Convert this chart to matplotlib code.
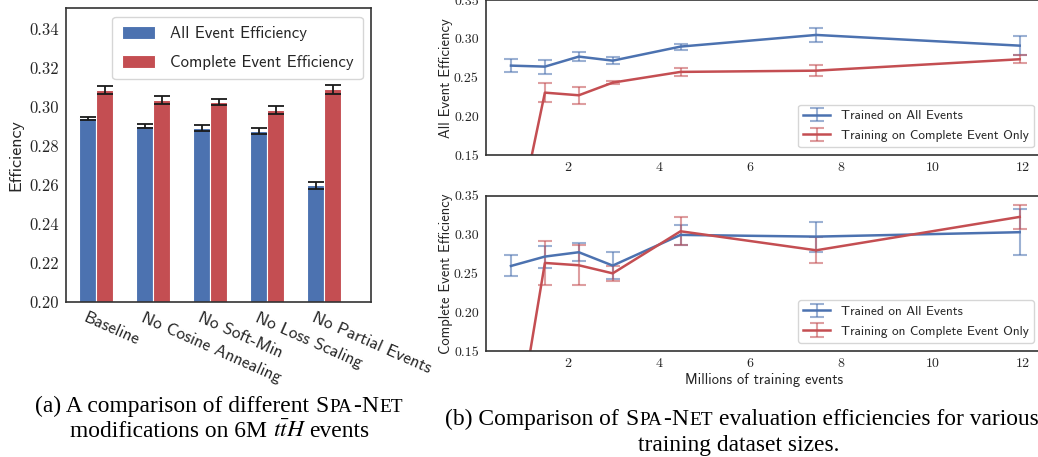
import matplotlib
matplotlib.use("Agg")
import matplotlib.pyplot as plt
import numpy as np
from matplotlib.transforms import IdentityTransform

# ---------------- data ----------------
categories = ['Baseline', 'No Cosine Annealing', 'No Soft-Min', 'No Loss Scaling', 'No Partial Events']
all_eff = [0.2941, 0.2902, 0.2893, 0.2876, 0.2597]
all_err = [0.0008, 0.0012, 0.0015, 0.0014, 0.0017]
comp_eff = [0.3087, 0.3035, 0.3025, 0.2984, 0.3090]
comp_err = [0.0022, 0.0022, 0.0017, 0.0021, 0.0023]

train_sizes = [0.745, 1.49, 2.235, 2.98, 4.47, 7.45, 11.92]
top_all = [0.2655, 0.2642, 0.2771, 0.2719, 0.2900, 0.3050, 0.2912]
top_all_err = [0.0088, 0.0090, 0.0058, 0.0045, 0.0039, 0.0090, 0.0122]
top_comp = [0.022, 0.2307, 0.2273, 0.2436, 0.2574, 0.2590, 0.2737]
top_comp_err = [0.005, 0.0120, 0.0110, 0.0024, 0.0054, 0.0071, 0.0052]
bot_all = [0.2595, 0.2716, 0.2772, 0.2600, 0.2995, 0.2973, 0.3030]
bot_all_err = [0.0135, 0.0142, 0.0116, 0.0172, 0.0125, 0.0193, 0.0300]
bot_comp = [0.000, 0.2634, 0.2604, 0.2500, 0.3042, 0.2797, 0.3227]
bot_comp_err = [0.005, 0.0286, 0.0260, 0.0100, 0.0180, 0.0168, 0.0155]

series_labels = ['Trained on All Events', 'Training on Complete Event Only']
bar_labels = ['All Event Efficiency', 'Complete Event Efficiency']

BLUE = '#4C72B0'
RED = '#C44E52'
EDGE = '#333333'
TXT = '#262626'

plt.rcParams['mathtext.fontset'] = 'stix'
plt.rcParams['axes.unicode_minus'] = False

W, H = 1038, 457
fig = plt.figure(figsize=(W / 100, H / 100), dpi=100)


def px_axes(left, top, right, bottom):
    return fig.add_axes([left / W, 1 - bottom / H, (right - left) / W, (bottom - top) / H])


def style_axes(ax, tick_size):
    for s in ax.spines.values():
        s.set_color(EDGE)
        s.set_linewidth(1.2)
    ax.tick_params(length=0, pad=5, labelsize=tick_size, colors=TXT)
    for lab in ax.get_yticklabels() + ax.get_xticklabels():
        lab.set_fontfamily('cmr10')


# ---------------- (a) bar chart ----------------
axa = px_axes(66, 8.3, 371, 301.7)
bw = 0.3
x = np.arange(len(categories))
axa.bar(x, all_eff, bw, color=BLUE, edgecolor='white', linewidth=0.8, label=bar_labels[0], zorder=2)
axa.bar(x + bw, comp_eff, bw, color=RED, edgecolor='white', linewidth=0.8, label=bar_labels[1], zorder=2)
axa.errorbar(x, all_eff, yerr=all_err, fmt='none', ecolor='#1a1a1a', elinewidth=1.3, capsize=6, capthick=1.3, zorder=3)
axa.errorbar(x + bw, comp_eff, yerr=comp_err, fmt='none', ecolor='#1a1a1a', elinewidth=1.3, capsize=6, capthick=1.3, zorder=3)
axa.set_xlim(-0.38, 4.97)
axa.set_ylim(0.20, 0.3506)
yt = [0.20, 0.22, 0.24, 0.26, 0.28, 0.30, 0.32, 0.34]
axa.set_yticks(yt)
axa.set_yticklabels(['%.2f' % v for v in yt])
axa.set_xticks(x)
axa.set_xticklabels(categories, rotation=-24, ha='left', va='top', rotation_mode='anchor')
style_axes(axa, 12)
for lab in axa.get_xticklabels():
    lab.set_fontfamily('cmss10')
    lab.set_fontsize(12.5)
axa.tick_params(axis='x', pad=6)
axa.set_ylabel('Efficiency', fontfamily='cmss10', fontsize=13, color=TXT, labelpad=4)
lega = axa.legend(loc='upper right', prop={'family': 'cmss10', 'size': 12}, frameon=True,
                  borderaxespad=0.5, handlelength=2.0, handleheight=0.8, labelspacing=0.85,
                  borderpad=0.55, handletextpad=0.9)
lega.get_frame().set_edgecolor('#cccccc')
for t in lega.get_texts():
    t.set_color(TXT)

# ---------------- (b) line charts ----------------
def line_panel(ax, ya, ya_err, yc, yc_err, ylabel, show_xlabel):
    for vals, errs, col, lab in [(ya, ya_err, BLUE, series_labels[0]), (yc, yc_err, RED, series_labels[1])]:
        cont = ax.errorbar(train_sizes, vals, yerr=errs, color=col, linewidth=1.8, elinewidth=1.5,
                           capsize=5, capthick=1.5, label=lab)
        for c in cont[1]:
            c.set_alpha(0.55)
        for c in cont[2]:
            c.set_alpha(0.55)
    ax.set_xlim(0.19, 12.41)
    ax.set_ylim(0.15, 0.35)
    ytl = [0.15, 0.20, 0.25, 0.30, 0.35]
    ax.set_yticks(ytl)
    ax.set_yticklabels(['%.2f' % v for v in ytl])
    ax.set_xticks([2, 4, 6, 8, 10, 12])
    ax.set_xticklabels(['2', '4', '6', '8', '10', '12'])
    style_axes(ax, 10)
    ax.set_ylabel(ylabel, fontfamily='cmss10', fontsize=10.5, color=TXT, labelpad=0.5)
    if show_xlabel:
        ax.set_xlabel('Millions of training events', fontfamily='cmss10', fontsize=10.5, color=TXT, labelpad=2)
    leg = ax.legend(loc='lower right', prop={'family': 'cmss10', 'size': 9.6}, frameon=True,
                    borderaxespad=0.6, handlelength=2.0, labelspacing=0.55)
    leg.get_frame().set_edgecolor('#cccccc')
    for t in leg.get_texts():
        t.set_color(TXT)


axt = px_axes(485.7, 0.0, 1042, 155.3)
line_panel(axt, top_all, top_all_err, top_comp, top_comp_err, 'All Event Efficiency', False)
axb = px_axes(485.7, 195.7, 1042, 351)
line_panel(axb, bot_all, bot_all_err, bot_comp, bot_comp_err, 'Complete Event Efficiency', True)

# ---------------- captions ----------------
renderer = fig.canvas.get_renderer()
CAP = 16.9
SC = CAP * 0.82
SERIF = 'Liberation Serif'


def rich_line(segments, cx, y_base):
    """segments: list of (text, size, gap_before_px); drawn centred at cx, baseline y_base (px from top)."""
    texts = []
    widths = []
    for s, size, gap in segments:
        t = fig.text(0, 0, s, fontsize=size, family=SERIF, color='black', ha='left', va='baseline',
                     transform=IdentityTransform())
        texts.append(t)
        widths.append(t.get_window_extent(renderer).width)
    total = sum(widths) + sum(g for _, _, g in segments)
    xcur = cx - total / 2
    for (s, size, gap), t, w in zip(segments, texts, widths):
        xcur += gap
        t.set_position((xcur, H - y_base))
        xcur += w


sp = CAP * 0.27 / 72 * 100
rich_line([('(a) A comparison of different', CAP, 0), ('S', CAP, sp), ('PA', SC, 0.8), ('-', CAP, 1.0),
           ('N', CAP, 1.0), ('ET', SC, 0.8)], 219, 411.7)
rich_line([('modifications on 6M', CAP, 0), (r'$t\bar{t}H$', CAP, sp), ('events', CAP, sp * 0.55)], 219.5, 436.7)
rich_line([('(b) Comparison of', CAP, 0), ('S', CAP, sp), ('PA', SC, 0.8), ('-', CAP, 1.0),
           ('N', CAP, 1.0), ('ET', SC, 0.8), ('evaluation efficiencies for various', CAP, sp)], 742, 425)
rich_line([('training dataset sizes.', CAP, 0)], 739, 451)

fig.savefig('out.png', dpi=100)
